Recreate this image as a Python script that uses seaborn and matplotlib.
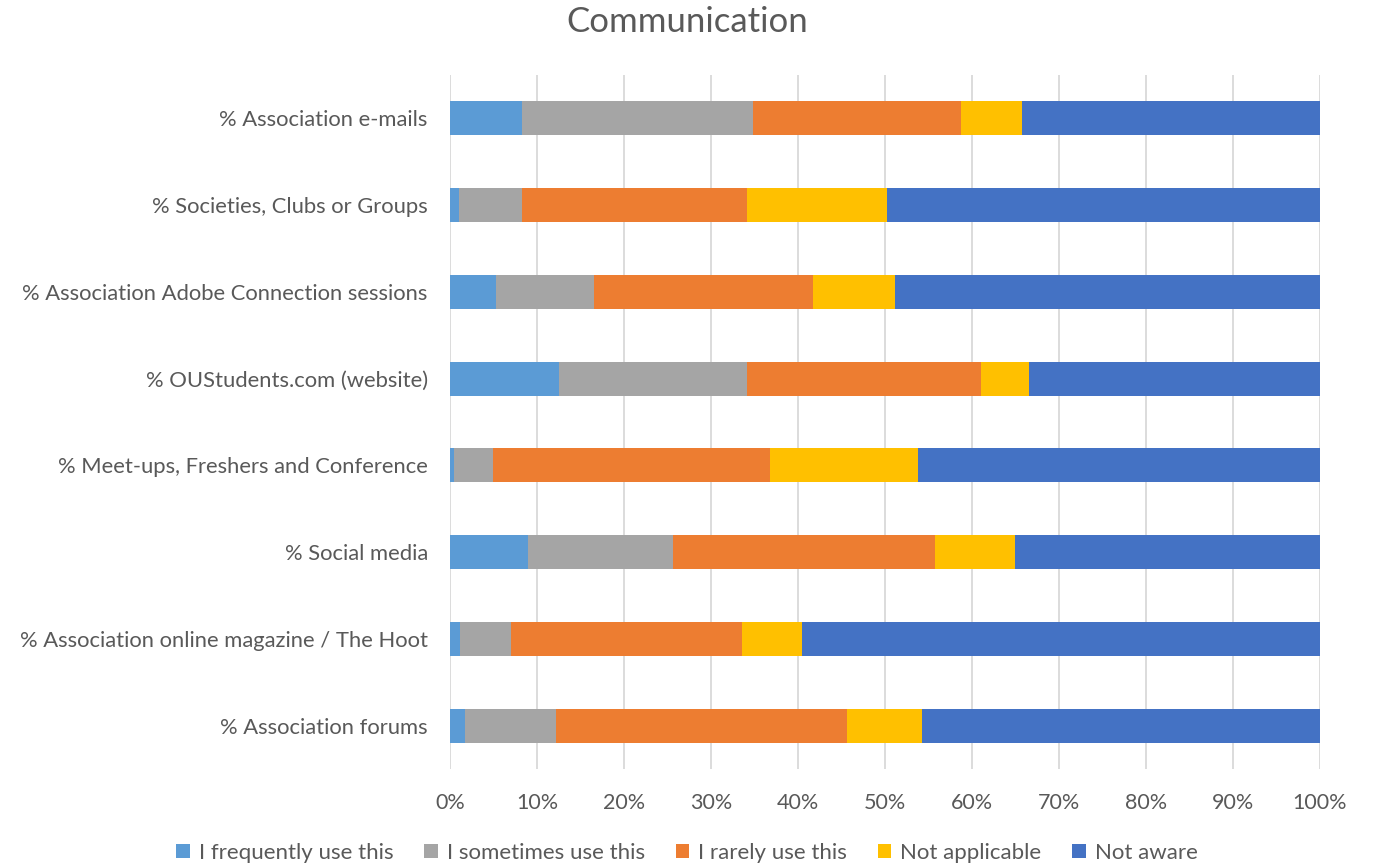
import numpy as np
import pandas as pd
import matplotlib
matplotlib.use("Agg")
import matplotlib.pyplot as plt
import seaborn as sns
from matplotlib.patches import Patch
from matplotlib.ticker import PercentFormatter

categories = [
    "% Association e-mails",
    "% Societies, Clubs or Groups",
    "% Association Adobe Connection sessions",
    "% OUStudents.com (website)",
    "% Meet-ups, Freshers and Conference",
    "% Social media",
    "% Association online magazine / The Hoot",
    "% Association forums",
]

series_names = [
    "I frequently use this",
    "I sometimes use this",
    "I rarely use this",
    "Not applicable",
    "Not aware",
]

frequently = [8.3, 1.0, 5.3, 12.5, 0.5, 9.0, 1.2, 1.7]
sometimes = [26.5, 7.3, 11.3, 21.6, 4.4, 16.6, 5.8, 10.5]
rarely = [23.9, 25.8, 25.1, 26.9, 31.9, 30.1, 26.6, 33.4]
not_applicable = [7.1, 16.1, 9.4, 5.5, 17.0, 9.2, 6.9, 8.7]
not_aware = [34.2, 49.8, 48.9, 33.5, 46.2, 35.1, 59.5, 45.7]

colors = ["#5B9BD5", "#A5A5A5", "#ED7D31", "#FFC000", "#4472C4"]

sns.set_theme(style="white")
plt.rcParams["font.family"] = ["Lato", "DejaVu Sans"]

df = pd.DataFrame(
    {
        "category": categories,
        series_names[0]: frequently,
        series_names[1]: sometimes,
        series_names[2]: rarely,
        series_names[3]: not_applicable,
        series_names[4]: not_aware,
    }
)
# cumulative shares, so each layer is drawn from 0 to its running total
cum = df[series_names].cumsum(axis=1)
cum = cum.div(cum[series_names[-1]], axis=0) * 100

fig = plt.figure(figsize=(13.74, 8.67), dpi=100)
ax = fig.add_axes([450 / 1374, 1 - 769 / 867, 870 / 1374, 694 / 867])

for name, color in reversed(list(zip(series_names, colors))):
    sns.barplot(
        x=cum[name],
        y=df["category"],
        orient="h",
        color=color,
        width=0.39,
        saturation=1,
        linewidth=0,
        ax=ax,
        zorder=2,
    )

ax.set_xlim(0, 100)
ax.set_xticks(np.arange(0, 101, 10))
ax.xaxis.set_major_formatter(PercentFormatter(decimals=0))
ax.grid(axis="x", color="#D9D9D9", linewidth=1.3, zorder=0)
ax.set_axisbelow(True)
for side in ["top", "right", "bottom", "left"]:
    ax.spines[side].set_visible(False)
ax.set_xlabel("")
ax.set_ylabel("")
ax.tick_params(axis="x", labelsize=15.5, colors="#595959", pad=17, length=0)
ax.tick_params(axis="y", labelsize=15.8, colors="#595959", pad=16, length=0)

fig.text(0.5, 1 - 22 / 867, "Communication", ha="center", va="center",
         fontsize=25, color="#595959")

handles = [Patch(facecolor=c, edgecolor="none") for c in colors]
fig.legend(
    handles,
    series_names,
    loc="center",
    bbox_to_anchor=(0.5, 1 - 853 / 867),
    ncol=5,
    frameon=False,
    fontsize=16,
    labelcolor="#595959",
    handlelength=0.6,
    handleheight=0.6,
    handletextpad=0.4,
    columnspacing=1.4,
)

fig.savefig("out.png", dpi=100, facecolor="white")
